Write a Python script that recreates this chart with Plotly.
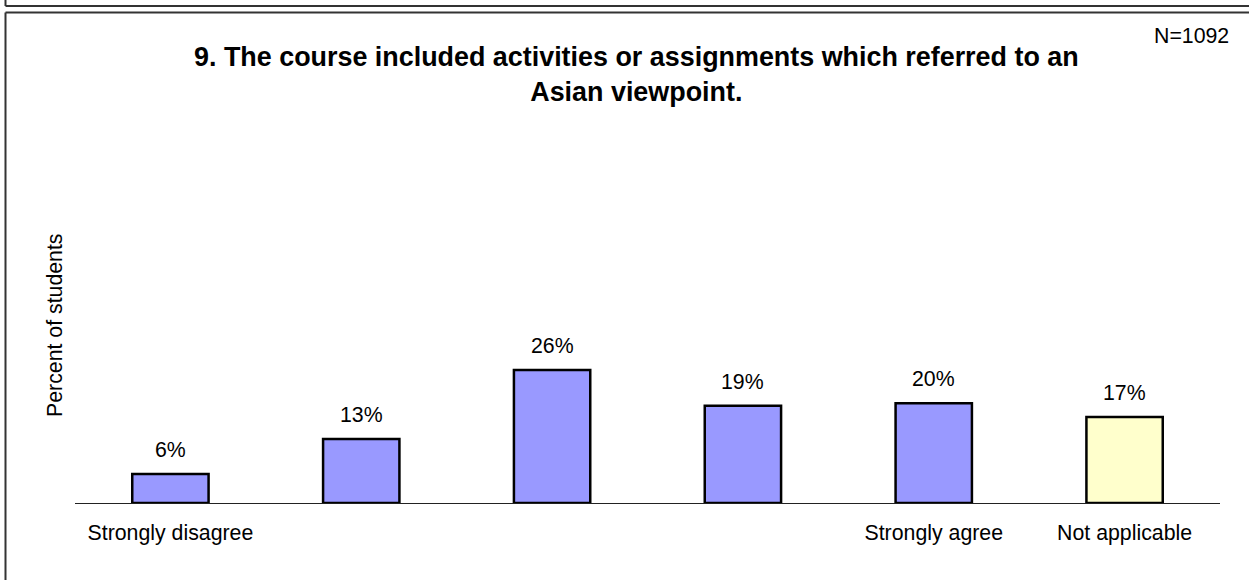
import plotly.graph_objects as go

categories = ["Strongly disagree", "2", "3", "4", "Strongly agree", "Not applicable"]
tick_labels = ["Strongly disagree", "", "", "", "Strongly agree", "Not applicable"]
values = [5.7, 12.6, 26.15, 19.1, 19.6, 16.9]
value_labels = ["6%", "13%", "26%", "19%", "20%", "17%"]
bar_colors = ["#9999FF", "#9999FF", "#9999FF", "#9999FF", "#9999FF", "#FFFFCC"]
title_lines = ["9. The course included activities or assignments which referred to an",
               "Asian viewpoint."]
n_label = "N=1092"
y_title = "Percent of students"

W, H = 1249, 580
ML, MR, MT, MB = 75, 29, 147, 77
PW, PH = W - ML - MR, H - MT - MB

def px_x(x):
    return (x - ML) / PW

def px_y(y):
    return (H - MB - y) / PH

FONT = "Liberation Sans, Arial, sans-serif"
xs = list(range(len(categories)))

fig = go.Figure()
fig.add_trace(go.Bar(
    x=xs, y=values,
    marker=dict(color=bar_colors, line=dict(color="#000000", width=2.5)),
    width=0.4,
    hoverinfo="skip",
))

annotations = []
for xi, v, t in zip(xs, values, value_labels):
    annotations.append(dict(x=xi, y=v, xref="x", yref="y", text=t, showarrow=False,
                            yanchor="bottom", yshift=10,
                            font=dict(family=FONT, size=21.3, color="#000000")))

annotations.append(dict(x=px_x(636), y=px_y(74), xref="paper", yref="paper",
                        text="<br>".join("<b>%s</b>" % l for l in title_lines),
                        showarrow=False, xanchor="center", yanchor="middle",
                        font=dict(family=FONT, size=26.9, color="#000000")))
annotations.append(dict(x=px_x(1231), y=px_y(36), xref="paper", yref="paper",
                        text=n_label, showarrow=False, xanchor="right", yanchor="middle",
                        font=dict(family=FONT, size=21.3, color="#000000")))
annotations.append(dict(x=px_x(55), y=px_y(325), xref="paper", yref="paper",
                        text=y_title, showarrow=False, textangle=-90,
                        xanchor="center", yanchor="middle",
                        font=dict(family=FONT, size=21.3, color="#000000")))

line_style = dict(color="#333333", width=2)
shapes = [
    dict(type="line", xref="paper", yref="paper", x0=px_x(5.5), x1=px_x(1262),
         y0=px_y(6), y1=px_y(6), line=line_style),
    dict(type="line", xref="paper", yref="paper", x0=px_x(5.5), x1=px_x(5.5),
         y0=px_y(-5), y1=px_y(6), line=line_style),
    dict(type="line", xref="paper", yref="paper", x0=px_x(5.5), x1=px_x(1262),
         y0=px_y(12.5), y1=px_y(12.5), line=line_style),
    dict(type="line", xref="paper", yref="paper", x0=px_x(5.5), x1=px_x(5.5),
         y0=px_y(12.5), y1=px_y(600), line=line_style),
]

fig.update_layout(
    width=W, height=H,
    margin=dict(l=ML, r=MR, t=MT, b=MB, pad=0),
    paper_bgcolor="#FFFFFF", plot_bgcolor="#FFFFFF",
    showlegend=False,
    annotations=annotations,
    shapes=shapes,
    font=dict(family=FONT, size=21.3, color="#000000"),
    xaxis=dict(range=[-0.5, 5.5], tickmode="array", tickvals=xs, ticktext=tick_labels,
               showgrid=False, zeroline=False, showline=True, linecolor="#222222",
               linewidth=1.2, ticks="", ticklabelstandoff=10,
               tickfont=dict(family=FONT, size=21.3, color="#000000"), fixedrange=True),
    yaxis=dict(range=[0, 70], showgrid=False, zeroline=False, showline=False,
               showticklabels=False, ticks="", fixedrange=True),
)

fig.write_html("out.html", config={"displayModeBar": False},
               post_script="document.body.style.margin='0';document.body.style.padding='0';")
